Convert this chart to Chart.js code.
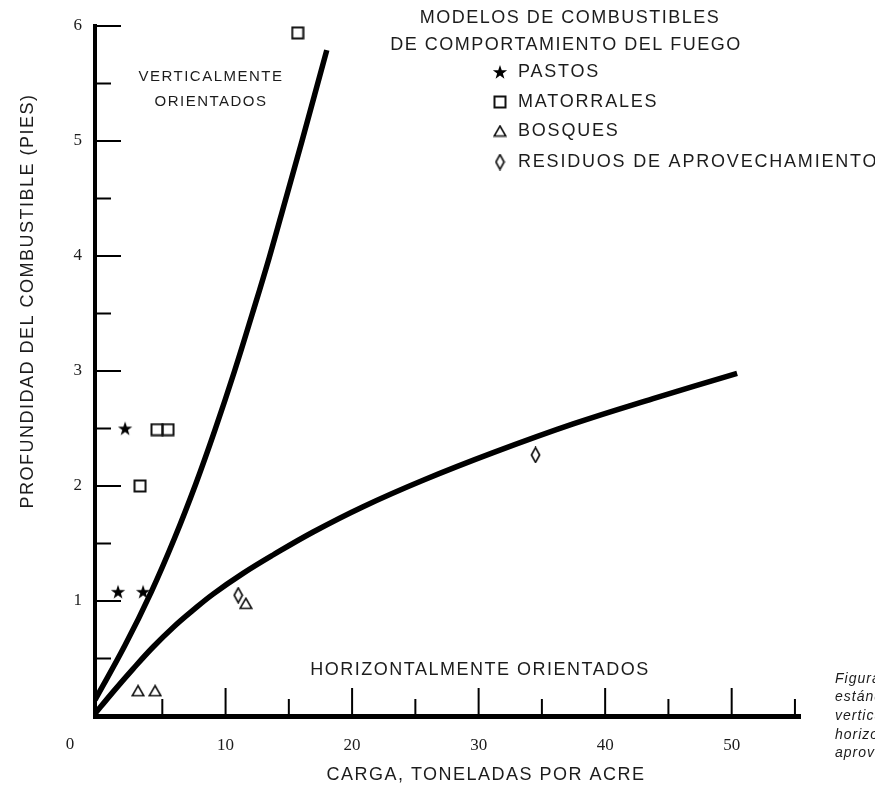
<!DOCTYPE html>
<html>
<head>
<meta charset="utf-8">
<script src="https://cdn.jsdelivr.net/npm/chart.js@4/dist/chart.umd.min.js"></script>
<style>
  html, body { margin: 0; padding: 0; background: #fff; }
  #wrap { width: 875px; height: 789px; position: relative; }
</style>
</head>
<body>
<div id="wrap"><canvas id="chart"></canvas></div>
<script>
// ---------------------------------------------------------------------------
// Data (x = carga t/acre, y = profundidad en pies)
// ---------------------------------------------------------------------------
const pastos = [[2.06, 2.5], [1.5, 1.08], [3.48, 1.08]];
const matorrales = [[15.7, 5.94], [4.58, 2.49], [5.45, 2.49], [3.24, 2.0]];
const bosques = [[3.08, 0.22], [4.43, 0.22], [11.6, 0.98]];
const residuos = [[11.0, 1.05], [34.5, 2.27]];

// boundary curves
const curvaVertical = [[-0.32, 0.14], [2.03, 0.61], [4.13, 1.08], [5.98, 1.55], [7.65, 2.02],
  [9.17, 2.49], [10.71, 3.0], [12.12, 3.5], [13.46, 3.99], [14.74, 4.49], [16.04, 5.0],
  [18.0, 5.79]];
const curvaHorizontal = [[-0.47, 0.0], [1.11, 0.21], [2.69, 0.41], [4.27, 0.6], [5.85, 0.77],
  [7.43, 0.92], [9.01, 1.06], [11.38, 1.24], [13.75, 1.4], [16.92, 1.6], [20.87, 1.82],
  [25.61, 2.05], [31.15, 2.29], [37.47, 2.54], [43.79, 2.76], [50.43, 2.98]];

const xMajorTicks = [10, 20, 30, 40, 50];
const xMinorTicks = [5, 15, 25, 35, 45, 55];
const yMajorTicks = [1, 2, 3, 4, 5, 6];
const yMinorTicks = [0.5, 1.5, 2.5, 3.5, 4.5, 5.5];

const legendLabels = ['PASTOS', 'MATORRALES', 'BOSQUES', 'RESIDUOS DE APROVECHAMIENTO'];

// ---------------------------------------------------------------------------
// Marker glyphs
// ---------------------------------------------------------------------------
function makeCanvas(w, h, draw) {
  const c = document.createElement('canvas');
  c.width = w; c.height = h;
  const g = c.getContext('2d');
  draw(g, w, h);
  return c;
}

const starMark = makeCanvas(16, 16, (g) => {
  g.fillStyle = '#000';
  g.beginPath();
  for (let i = 0; i < 10; i++) {
    const r = i % 2 === 0 ? 7.5 : 3.0;
    const a = -Math.PI / 2 + i * Math.PI / 5;
    const px = 8 + r * Math.cos(a), py = 8.6 + r * Math.sin(a);
    if (i === 0) g.moveTo(px, py); else g.lineTo(px, py);
  }
  g.closePath();
  g.fill();
});

const squareMark = makeCanvas(14, 14, (g) => {
  g.strokeStyle = '#111';
  g.lineWidth = 2;
  g.strokeRect(1.5, 1.5, 11, 11);
});

const triangleMark = makeCanvas(14, 13, (g) => {
  g.strokeStyle = '#111';
  g.lineWidth = 1.6;
  g.beginPath();
  g.moveTo(7, 1.5); g.lineTo(12.8, 11.5); g.lineTo(1.2, 11.5);
  g.closePath();
  g.stroke();
});

const diamondMark = makeCanvas(11, 17, (g) => {
  g.strokeStyle = '#111';
  g.lineWidth = 1.7;
  g.beginPath();
  g.moveTo(5.5, 1.2); g.lineTo(9.6, 8.5); g.lineTo(5.5, 15.8); g.lineTo(1.4, 8.5);
  g.closePath();
  g.stroke();
});

const toXY = (arr) => arr.map(([x, y]) => ({ x, y }));

const SANS = '"Liberation Sans", Arial, sans-serif';
const SERIF = '"Liberation Serif", "DejaVu Serif", serif';
const INK = '#1c1c1c';

function text(ctx, str, x, y, size, align, spacing) {
  ctx.font = size + 'px ' + SANS;
  ctx.letterSpacing = (spacing === undefined ? 1.5 : spacing) + 'px';
  ctx.textAlign = align || 'center';
  ctx.textBaseline = 'middle';
  ctx.fillText(str, x, y);
}

// draws inward tick marks, annotations and the legend block
const figureDecor = {
  id: 'figureDecor',
  afterDraw(chart) {
    const { ctx, scales: { x, y } } = chart;
    const x0 = x.getPixelForValue(x.min);
    const yAxisY = y.getPixelForValue(0);

    ctx.save();
    ctx.strokeStyle = '#000';
    ctx.lineWidth = 2;
    xMajorTicks.concat(xMinorTicks).forEach(v => {
      const px = x.getPixelForValue(v);
      const len = xMajorTicks.includes(v) ? 26 : 15;
      ctx.beginPath();
      ctx.moveTo(px, yAxisY - 2);
      ctx.lineTo(px, yAxisY - 2 - len);
      ctx.stroke();
    });
    yMajorTicks.concat(yMinorTicks).forEach(v => {
      const py = y.getPixelForValue(v);
      const len = yMajorTicks.includes(v) ? 25 : 15;
      ctx.beginPath();
      ctx.moveTo(x0 + 1, py);
      ctx.lineTo(x0 + 1 + len, py);
      ctx.stroke();
    });

    // origin label sits left of the axis corner
    ctx.fillStyle = INK;
    ctx.font = '17px ' + SERIF;
    ctx.letterSpacing = '0px';
    ctx.textAlign = 'center';
    ctx.textBaseline = 'middle';
    ctx.fillText('0', x0 - 25, 745);

    // titles and region labels
    text(ctx, 'MODELOS DE COMBUSTIBLES', 570, 18, 18);
    text(ctx, 'DE COMPORTAMIENTO DEL FUEGO', 566, 45, 18);
    text(ctx, 'VERTICALMENTE', 211, 77, 15);
    text(ctx, 'ORIENTADOS', 211, 102, 15);
    text(ctx, 'HORIZONTALMENTE ORIENTADOS', 480, 670, 18);
    text(ctx, 'CARGA, TONELADAS POR ACRE', 486, 775, 18);

    ctx.save();
    ctx.translate(28, 301);
    ctx.rotate(-Math.PI / 2);
    text(ctx, 'PROFUNDIDAD DEL COMBUSTIBLE (PIES)', 0, 0, 18);
    ctx.restore();

    // legend
    const rows = [72, 102, 131, 162];
    chart.data.datasets.filter(d => d.legendMark).forEach((d, i) => {
      const m = d.pointStyle;
      ctx.drawImage(m, 500 - m.width / 2, rows[i] - m.height / 2);
      text(ctx, d.label, 518, rows[i], 18, 'left', 1.8);
    });

    // figure caption, cut by the page edge
    ctx.font = 'italic 14px ' + SANS;
    ctx.letterSpacing = '1px';
    ctx.textAlign = 'left';
    const cap = ['Figura 1. Modelos', 'estándar de combustible', 'verticalmente y', 'horizontalmente orientados', 'aprovechamiento'];
    [679, 697, 716, 735, 753].forEach((py, i) => ctx.fillText(cap[i], 835, py));
    ctx.restore();
  }
};

function scatterSet(label, pts, mark) {
  return {
    label, data: toXY(pts), pointStyle: mark, pointRadius: 6,
    showLine: false, legendMark: true, order: 0
  };
}

function curveSet(pts) {
  return {
    label: '', data: toXY(pts), showLine: true, pointRadius: 0,
    borderColor: '#000', borderWidth: 5.5, tension: 0.4,
    fill: false, order: 1
  };
}

const tickFont = { family: SERIF, size: 17 };

new Chart(document.getElementById('chart'), {
  type: 'scatter',
  data: {
    datasets: [
      scatterSet(legendLabels[0], pastos, starMark),
      scatterSet(legendLabels[1], matorrales, squareMark),
      scatterSet(legendLabels[2], bosques, triangleMark),
      scatterSet(legendLabels[3], residuos, diamondMark),
      curveSet(curvaVertical),
      curveSet(curvaHorizontal),
    ]
  },
  options: {
    responsive: true,
    maintainAspectRatio: false,
    animation: false,
    layout: { padding: { left: 0, right: 75, top: 26, bottom: 0 } },
    plugins: { legend: { display: false }, tooltip: { enabled: false } },
    scales: {
      x: {
        type: 'linear', min: -0.32, max: 55.4,
        afterBuildTicks: s => { s.ticks = xMajorTicks.map(v => ({ value: v })); },
        afterFit: s => { s.height = 73; },
        grid: { display: false, drawTicks: false },
        border: { display: true, color: '#000', width: 5 },
        ticks: { font: tickFont, color: INK, padding: 19, maxRotation: 0 }
      },
      y: {
        type: 'linear', min: 0, max: 6,
        afterBuildTicks: s => { s.ticks = yMajorTicks.map(v => ({ value: v })); },
        afterFit: s => { s.width = 95; },
        grid: { display: false, drawTicks: false },
        border: { display: true, color: '#000', width: 4 },
        ticks: { font: tickFont, color: INK, padding: 13 }
      }
    }
  },
  plugins: [figureDecor]
});
</script>
</body>
</html>
